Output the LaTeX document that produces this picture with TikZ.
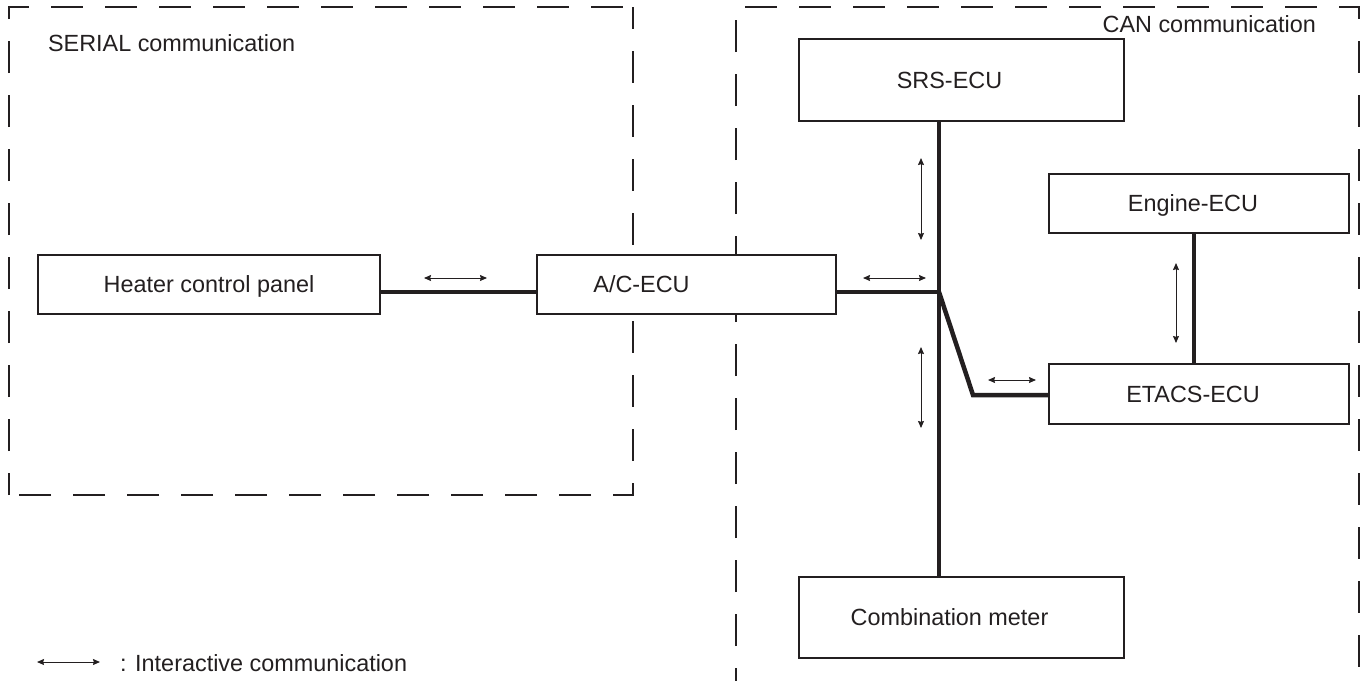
\documentclass[tikz,border=0pt]{standalone}
\usepackage{fontspec}
\setmainfont{Liberation Sans}
\usetikzlibrary{arrows.meta,calc}
\definecolor{ink}{HTML}{231F20}
\begin{document}
\begin{tikzpicture}[x=0.5pt,y=-0.5pt,
  every node/.style={font=\fontsize{11.7pt}{14pt}\selectfont, text=ink},
  ecubox/.style={draw=ink, fill=white, line width=1pt, inner sep=0pt, text height=8.4pt, text depth=0pt},
  bus/.style={draw=ink, line width=2.25pt},
  ia/.style={draw=ink, line width=0.5pt, {Stealth[length=3.5pt,width=3pt,inset=0.4pt]}-{Stealth[length=3.5pt,width=3pt,inset=0.4pt]}},
  zone/.style={draw=ink, line width=1pt, dash pattern=on 16pt off 11pt}]
\useasboundingbox (0,0) rectangle (1362,681);
% zones
\draw[zone, dash phase=5pt] (9,495) -- (9,7) -- (633,7);
\draw[zone, dash phase=5pt] (633,7) -- (633,495) -- (9,495);
\draw[zone] (736,700) -- (736,7) -- (1359,7) -- (1359,700);
\node[anchor=base west] (serial) at (41,51) {SERIAL communication};
\node[anchor=base east] (can) at (1323,32) {CAN communication};
% ECUs
\node[ecubox, minimum width=171pt, minimum height=29.5pt] (heater) at (209,284.5) {Heater control panel};
\node[ecubox, minimum width=149.5pt, minimum height=29.5pt] (ac) at (686.5,284.5) {A/C-ECU\hspace*{45pt}};
\node[ecubox, minimum width=162.5pt, minimum height=41pt] (srs) at (961.5,80) {SRS-ECU\hspace*{12pt}};
\node[ecubox, minimum width=150pt, minimum height=29.5pt] (engine) at (1199,203.5) {Engine-ECU\hspace*{6pt}};
\node[ecubox, minimum width=150pt, minimum height=30pt] (etacs) at (1199,394) {ETACS-ECU\hspace*{6pt}};
\node[ecubox, minimum width=162.5pt, minimum height=40.5pt] (comb) at (961.5,617.5) {Combination meter\hspace*{12pt}};
% bus lines
\coordinate (j) at (939,292);
\coordinate (d) at (973,395);
\draw[bus] (heater.east |- j) -- (ac.west |- j);
\draw[bus] (ac.east |- j) -- (j);
\draw[bus] (srs.south -| j) -- (comb.north -| j);
\draw[bus, line join=miter] (j) -- (d) -- (etacs.west |- d);
\draw[bus] ([xshift=-2.5pt]engine.south) -- ([xshift=-2.5pt]etacs.north);
% interactive arrows
\coordinate (a1l) at (424,278); \coordinate (a1r) at (487,278);
\coordinate (a2l) at (863,278); \coordinate (a2r) at (926,278);
\coordinate (a3t) at (921,158); \coordinate (a3b) at (921,240);
\coordinate (a4t) at (921,347); \coordinate (a4b) at (921,428);
\coordinate (a5l) at (988,380); \coordinate (a5r) at (1036,380);
\coordinate (a6t) at (1176,263); \coordinate (a6b) at (1176,343);
\draw[ia] (a1l) -- (a1r);
\draw[ia] (a2l) -- (a2r);
\draw[ia] (a3t) -- (a3b);
\draw[ia] (a4t) -- (a4b);
\draw[ia] (a5l) -- (a5r);
\draw[ia] (a6t) -- (a6b);
% legend
\coordinate (lgl) at (37,662); \coordinate (lgr) at (100,662);
\draw[ia] (lgl) -- (lgr);
\node[anchor=base west] (lgtext) at (113,671) {: Interactive communication};
\end{tikzpicture}
\end{document}
